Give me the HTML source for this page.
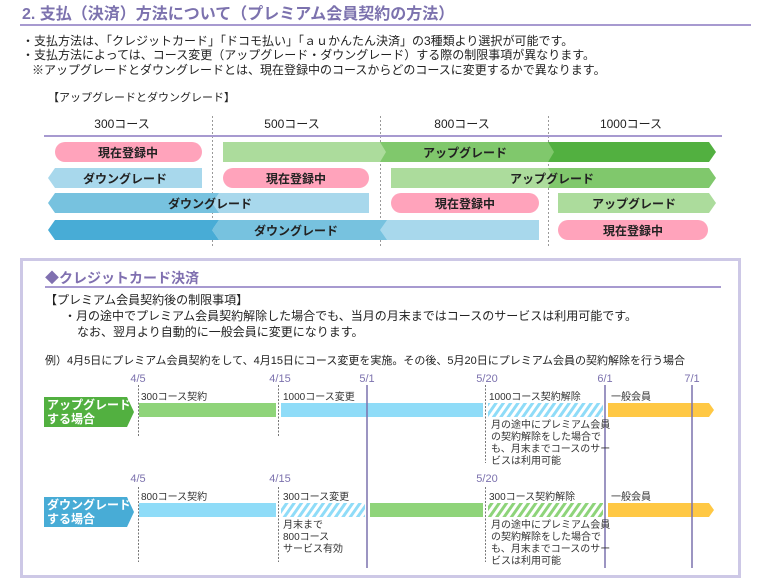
<!DOCTYPE html>
<html><head><meta charset="utf-8"><style>
html,body{margin:0;padding:0;background:#fff;}
svg{display:block;font-family:"Liberation Sans","Noto Sans CJK JP",sans-serif;}
</style></head><body>
<svg width="760" height="580" viewBox="0 0 760 580" xmlns="http://www.w3.org/2000/svg">
<defs>
<pattern id="hb" width="6" height="6" patternUnits="userSpaceOnUse" patternTransform="rotate(35)"><rect width="6" height="6" fill="#fff"/><rect width="3" height="6" fill="#8fdcf8"/></pattern>
<pattern id="hg" width="6" height="6" patternUnits="userSpaceOnUse" patternTransform="rotate(35)"><rect width="6" height="6" fill="#fff"/><rect width="3" height="6" fill="#8ed47a"/></pattern>
</defs>
<!-- Title -->
<text x="22" y="19" font-size="16" font-weight="bold" fill="#7c72ae">2. 支払（決済）方法について（プレミアム会員契約の方法）</text>
<rect x="20" y="24" width="731" height="2" fill="#a79ad0"/>
<g font-size="12" fill="#222">
<text x="22" y="45">・支払方法は、「クレジットカード」「ドコモ払い」「ａｕかんたん決済」の3種類より選択が可能です。</text>
<text x="22" y="59">・支払方法によっては、コース変更（アップグレード・ダウングレード）する際の制限事項が異なります。</text>
<text x="32" y="74">※アップグレードとダウングレードとは、現在登録中のコースからどのコースに変更するかで異なります。</text>
<text x="48" y="101" font-size="11">【アップグレードとダウングレード】</text>
</g>
<!-- dividers -->
<g stroke="#999" stroke-dasharray="2,2" stroke-width="1">
<line x1="212.5" y1="116" x2="212.5" y2="246"/><line x1="380.5" y1="116" x2="380.5" y2="246"/><line x1="548.5" y1="116" x2="548.5" y2="246"/>
</g>
<g font-size="12" fill="#222" text-anchor="middle">
<text x="122" y="128">300コース</text><text x="292" y="128">500コース</text><text x="462" y="128">800コース</text><text x="631" y="128">1000コース</text>
</g>
<rect x="44" y="135" width="678" height="2" fill="#a79ad0"/>
<!-- row1 -->
<rect x="55" y="142" width="147" height="20" rx="10" fill="#ffa3bb"/>
<polygon points="223,142 386,142 386,162 223,162" fill="#acdc9c"/>
<polygon points="380,142 554,142 554,162 380,162 386,152" fill="#80c86c"/>
<polygon points="548,142 709,142 716,152 709,162 548,162 554,152" fill="#52b040"/>
<!-- row2 -->
<polygon points="55,168 202,168 202,188 55,188 48,178" fill="#a8d8ec"/>
<rect x="223" y="168" width="146" height="20" rx="10" fill="#ffa3bb"/>
<polygon points="391,168 554,168 554,188 391,188" fill="#acdc9c"/>
<polygon points="548,168 709,168 716,178 709,188 548,188 554,178" fill="#80c86c"/>
<!-- row3 -->
<polygon points="213,193 369,193 369,213 213,213" fill="#a8d8ec"/>
<polygon points="55,193 219,193 212,203 219,213 55,213 48,203" fill="#77c2df"/>
<rect x="391" y="193" width="148" height="20" rx="10" fill="#ffa3bb"/>
<polygon points="558,193 709,193 716,203 709,213 558,213" fill="#acdc9c"/>
<!-- row4 -->
<polygon points="380,220 539,220 539,240 380,240" fill="#a8d8ec"/>
<polygon points="219,220 387,220 380,230 387,240 219,240 212,230" fill="#77c2df"/>
<polygon points="55,220 219,220 212,230 219,240 55,240 48,230" fill="#48acd6"/>
<rect x="558" y="220" width="150" height="20" rx="10" fill="#ffa3bb"/>
<g font-size="12" font-weight="bold" fill="#222" text-anchor="middle">
<text x="128" y="157">現在登録中</text><text x="465" y="157">アップグレード</text>
<text x="125" y="183">ダウングレード</text><text x="296" y="183">現在登録中</text><text x="552" y="183">アップグレード</text>
<text x="210" y="208">ダウングレード</text><text x="465" y="208">現在登録中</text><text x="634" y="208">アップグレード</text>
<text x="296" y="235">ダウングレード</text><text x="633" y="235">現在登録中</text>
</g>
<!-- bottom box -->
<rect x="21.5" y="259.5" width="718" height="317" fill="none" stroke="#cdc8e6" stroke-width="3"/>
<text x="45" y="283" font-size="14" font-weight="bold" fill="#8070b0">◆クレジットカード決済</text>
<rect x="45" y="286" width="676" height="2" fill="#a79ad0"/>
<g font-size="12" fill="#222">
<text x="45" y="304">【プレミアム会員契約後の制限事項】</text>
<text x="64" y="320">・月の途中でプレミアム会員契約解除した場合でも、当月の月末まではコースのサービスは利用可能です。</text>
<text x="77" y="336">なお、翌月より自動的に一般会員に変更になります。</text>
<text x="45" y="364" font-size="11">例）4月5日にプレミアム会員契約をして、4月15日にコース変更を実施。その後、5月20日にプレミアム会員の契約解除を行う場合</text>
</g>
<!-- date labels -->
<g font-size="11" fill="#7c72ae" text-anchor="middle">
<text x="138" y="382">4/5</text><text x="280" y="382">4/15</text><text x="367" y="382">5/1</text><text x="487" y="382">5/20</text><text x="605" y="382">6/1</text><text x="692" y="382">7/1</text>
<text x="138" y="482">4/5</text><text x="280" y="482">4/15</text><text x="487" y="482">5/20</text>
</g>
<!-- dotted lines -->
<g stroke="#777" stroke-dasharray="2,1.5" stroke-width="1">
<line x1="138.5" y1="385" x2="138.5" y2="437"/><line x1="278.5" y1="385" x2="278.5" y2="437"/><line x1="485.5" y1="385" x2="485.5" y2="463"/>
<line x1="138.5" y1="487" x2="138.5" y2="562"/><line x1="278.5" y1="487" x2="278.5" y2="562"/><line x1="485.5" y1="487" x2="485.5" y2="562"/>
</g>
<!-- bars up -->
<polygon points="44,397 127,397 134,412 127,427 44,427" fill="#52b040"/>
<rect x="139" y="403" width="137" height="14" fill="#8fd47a"/>
<rect x="281" y="403" width="202" height="14" fill="#8fdcf8"/>
<rect x="488" y="403" width="115" height="14" fill="url(#hb)"/>
<polygon points="608,403 709,403 714,410 709,417 608,417" fill="#ffc844"/>
<!-- bars down -->
<polygon points="44,497 127,497 134,512 127,527 44,527" fill="#48acd6"/>
<rect x="139" y="503" width="137" height="14" fill="#8fdcf8"/>
<rect x="281" y="503" width="84" height="14" fill="url(#hb)"/>
<rect x="370" y="503" width="113" height="14" fill="#8fd47a"/>
<rect x="488" y="503" width="115" height="14" fill="url(#hg)"/>
<polygon points="608,503 709,503 714,510 709,517 608,517" fill="#ffc844"/>
<!-- solid lines -->
<g stroke="#7c72ae" stroke-width="1.5">
<line x1="367" y1="385" x2="367" y2="568"/><line x1="605" y1="385" x2="605" y2="568"/><line x1="692" y1="385" x2="692" y2="568"/>
</g>
<g font-size="12" font-weight="bold" fill="#fff">
<text x="47" y="409">アップグレード</text><text x="47" y="423">する場合</text>
<text x="47" y="509">ダウングレード</text><text x="47" y="523">する場合</text>
</g>
<g font-size="10" fill="#333">
<text x="141" y="400">300コース契約</text><text x="283" y="400">1000コース変更</text><text x="489" y="400">1000コース契約解除</text><text x="611" y="400">一般会員</text>
<text x="141" y="500">800コース契約</text><text x="283" y="500">300コース変更</text><text x="489" y="500">300コース契約解除</text><text x="611" y="500">一般会員</text>
<text x="491" y="428">月の途中にプレミアム会員</text><text x="491" y="440">の契約解除をした場合で</text><text x="491" y="452">も、月末までコースのサー</text><text x="491" y="464">ビスは利用可能</text>
<text x="491" y="528">月の途中にプレミアム会員</text><text x="491" y="540">の契約解除をした場合で</text><text x="491" y="552">も、月末までコースのサー</text><text x="491" y="564">ビスは利用可能</text>
<text x="283" y="528">月末まで</text><text x="283" y="540">800コース</text><text x="283" y="552">サービス有効</text>
</g>
</svg>
</body></html>
